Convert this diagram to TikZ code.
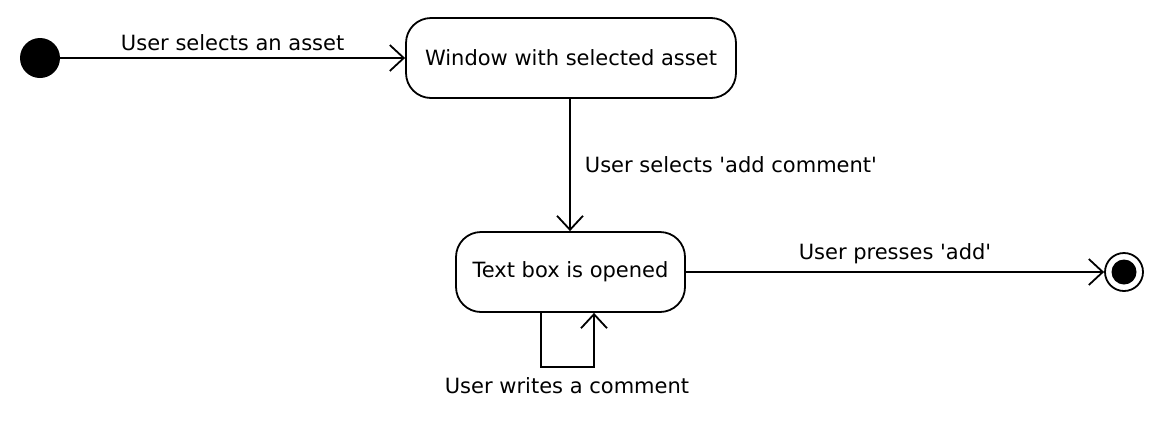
\documentclass[tikz,border=0pt]{standalone}
\usepackage{fontspec}
\setmainfont{DejaVu Sans}
\usetikzlibrary{arrows.meta,positioning}
\tikzset{
  state/.style={draw,line width=1.8pt,rounded corners=25pt,minimum height=80pt,inner sep=0pt},
  trans/.style={line width=1.8pt,-{Straight Barb[length=14pt,width=26pt,line width=1.8pt]}},
  lbl/.style={inner sep=0pt},
}
\begin{document}
\begin{tikzpicture}[x=1pt,y=-1pt,font=\fontsize{21}{25}\selectfont]
            \useasboundingbox (0,0) rectangle (1174,424);
            \node[circle,fill,minimum size=40pt,inner sep=0pt] (start) at (40,58) {};
            \node[state,minimum width=330pt] (win) at (571,58) {Window with selected asset};
            \node[state,minimum width=229pt] (tb) at (570.5,272) {Text box is opened};
            \node[circle,draw,line width=1.8pt,minimum size=38pt,inner sep=0pt] (end) at (1124,272) {};
            \node[circle,fill,minimum size=25pt,inner sep=0pt] at (end) {};
            \draw[trans] (start) -- node[lbl,above=6pt] {User selects an asset} (win);
            \draw[trans] (win.south -| 570,0) -- node[lbl,right=14pt] {User selects \textquotesingle add comment\textquotesingle} (tb.north -| 570,0);
            \draw[trans] (tb) -- node[lbl,above=7pt] {User presses \textquotesingle add\textquotesingle} (end);
            \draw[trans] (tb.south -| 541,0) -- ++(0,54) coordinate (loop) -| (tb.south -| 594,0);
            \node[lbl,below=10pt] at (loop -| 567,0) {User writes a comment};
        \end{tikzpicture}
\end{document}
